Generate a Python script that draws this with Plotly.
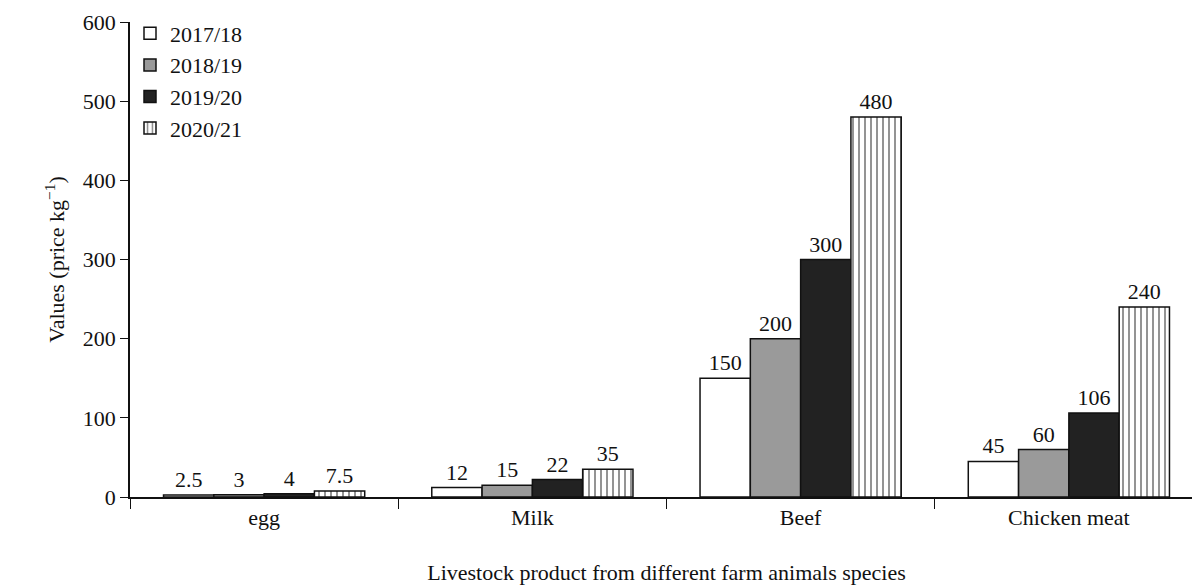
import plotly.graph_objects as go

categories = ["egg", "Milk", "Beef", "Chicken meat"]
seasons = ["2017/18", "2018/19", "2019/20", "2020/21"]
values = {
    "2017/18": [2.5, 12, 150, 45],
    "2018/19": [3, 15, 200, 60],
    "2019/20": [4, 22, 300, 106],
    "2020/21": [7.5, 35, 480, 240],
}
labels = {
    "2017/18": ["2.5", "12", "150", "45"],
    "2018/19": ["3", "15", "200", "60"],
    "2019/20": ["4", "22", "300", "106"],
    "2020/21": ["7.5", "35", "480", "240"],
}

fills = {"2017/18": "white", "2018/19": "#9a9a9a", "2019/20": "#222222", "2020/21": "white"}
serif = "Liberation Serif, Times New Roman, serif"

fig = go.Figure()
for s in seasons:
    marker = dict(color=fills[s], line=dict(color="#111111", width=1.5))
    if s == "2020/21":
        marker["pattern"] = dict(shape="|", fgcolor="#111111", bgcolor="white",
                                 size=6, solidity=0.3)
    fig.add_trace(go.Bar(
        x=categories, y=values[s], name=s, marker=marker,
        text=labels[s], textposition="outside", cliponaxis=False,
        textfont=dict(family=serif, size=22, color="#111111")))

fig.update_layout(
    width=1200, height=586,
    barmode="group", bargap=0.25, bargroupgap=0,
    plot_bgcolor="white", paper_bgcolor="white",
    font=dict(family=serif, size=22, color="#111111"),
    margin=dict(l=122, r=5, t=8, b=97),
    legend=dict(x=0.0, y=1.02, xanchor="left", yanchor="top",
                bgcolor="rgba(0,0,0,0)", font=dict(family=serif, size=22),
                traceorder="normal", itemwidth=30, tracegroupgap=4),
    xaxis=dict(showline=True, linecolor="#111111", linewidth=1.5,
               ticks="outside", tickson="boundaries", ticklen=10,
               tickcolor="#111111", automargin=False,
               tickfont=dict(family=serif, size=22),
               title=dict(text="Livestock product from different farm animals species",
                          standoff=35, font=dict(family=serif, size=22))),
    yaxis=dict(range=[0, 600], dtick=100, showline=True, linecolor="#111111",
               linewidth=1.5, ticks="outside", ticklen=8, tickcolor="#111111",
               showgrid=False, zeroline=False, automargin=False,
               tickfont=dict(family=serif, size=22),
               title=dict(text="Values (price kg<sup>−1</sup>)", standoff=12,
                          font=dict(family=serif, size=22))),
)

fig.write_html("out.html")
